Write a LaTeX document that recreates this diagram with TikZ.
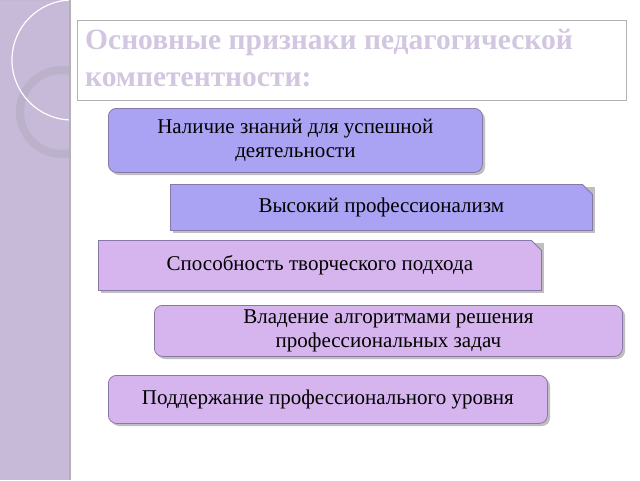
\documentclass[tikz,border=0pt]{standalone}
\usepackage{fontspec}
\setmainfont{Liberation Serif}
\usetikzlibrary{shapes.misc}
\definecolor{strip}{HTML}{C6BAD8}
\definecolor{titlec}{HTML}{D2C6E0}
\definecolor{blueb}{HTML}{AAA2F2}
\definecolor{pinkb}{HTML}{D6B4EE}
\definecolor{edgec}{HTML}{8878A8}
\tikzset{
 rbox/.style={draw=edgec,line width=0.8pt,rounded corners=8pt,inner sep=0,anchor=north west,align=center,font=\fontsize{21}{24}\selectfont},
 sbox/.style={rbox,rounded corners=0,chamfered rectangle,chamfered rectangle corners=north east,chamfered rectangle xsep=5pt,chamfered rectangle ysep=5pt},
}
\begin{document}
\begin{tikzpicture}[x=1pt,y=-1pt]
\useasboundingbox (0,0) rectangle (640,480);
\fill[white] (0,0) rectangle (640,480);
\fill[strip] (0,0) rectangle (70,480);
\begin{scope}
\clip (0,0) rectangle (70,480);
\fill[black!15!strip] (0,0) -- (58,0) arc[start angle=0,end angle=-90,radius=58] -- cycle;
\draw[strip!85!gray,line width=8pt] (62,112) circle (42);
\draw[white,line width=1.2pt] (72,60) circle (60);
\end{scope}
\draw[gray!60,line width=1.5pt] (70,0) -- (70,480);
\draw[gray!60,line width=0.8pt] (77,20) rectangle (626,100);
\node[anchor=north west,align=left,text=titlec,font=\bfseries\fontsize{29.5}{37}\selectfont,inner sep=0] (title) at (85,29) {Основные признаки педагогической\\компетентности:};
\fill[gray!50,rounded corners=8pt] (111,111) rectangle (485,175);
\node[rbox,fill=blueb,minimum width=374pt,minimum height=64pt] (b1) at (108,108) {Наличие знаний для успешной\\деятельности};
\fill[gray!50] (173,187) rectangle (595,233);
\node[sbox,fill=blueb,minimum width=422pt,minimum height=46pt] (b2) at (170,184) {Высокий профессионализм};
\fill[gray!50] (101,243) rectangle (544,293);
\node[sbox,fill=pinkb,minimum width=443pt,minimum height=50pt] (b3) at (98,240) {Способность творческого подхода};
\fill[gray!50,rounded corners=8pt] (157,308) rectangle (625,359);
\node[rbox,fill=pinkb,minimum width=468pt,minimum height=51pt] (b4) at (154,305) {Владение алгоритмами решения\\профессиональных задач};
\fill[gray!50,rounded corners=8pt] (111,378) rectangle (550,426);
\node[rbox,fill=pinkb,minimum width=439pt,minimum height=48pt] (b5) at (108,375) {Поддержание профессионального уровня};
\end{tikzpicture}
\end{document}
